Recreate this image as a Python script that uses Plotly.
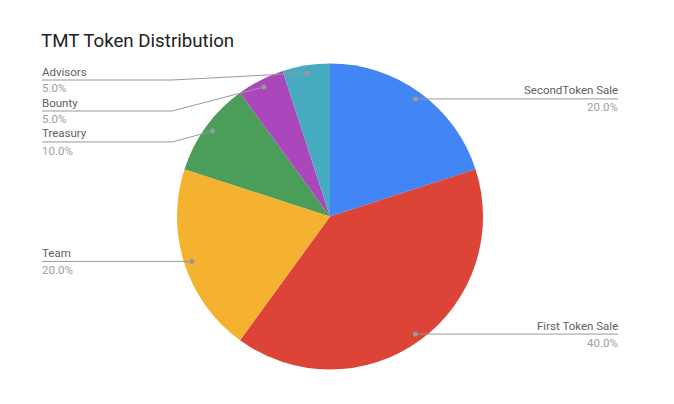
import math
import plotly.graph_objects as go

# data
labels = ["SecondToken Sale", "First Token Sale", "Team", "Treasury", "Bounty", "Advisors"]
values = [20, 40, 20, 10, 5, 5]
colors = ["#4285F4", "#DB4437", "#F4B230", "#4A9E5A", "#AA47BC", "#46ABC1"]

W, H = 674, 404
CX, CY, R = 330, 216.5, 153     # pie centre / radius in pixels
LEFT_X, RIGHT_X = 42, 618       # label text edges
TOP_LIMIT = 80                  # labels can't go above this
GAP = 31                        # min vertical gap between labels


def px(x):
    return x / W


def py(y):
    return 1 - y / H


fig = go.Figure(go.Pie(
    labels=labels, values=values, sort=False, direction="clockwise", rotation=0,
    marker=dict(colors=colors, line=dict(width=0)), textinfo="none",
    domain=dict(x=[px(CX - R), px(CX + R)], y=[py(CY + R), py(CY - R)]),
    showlegend=False,
))

total = sum(values)
items = []
acc = 0
for lab, v in zip(labels, values):
    mid = (acc + v / 2) / total * 2 * math.pi
    acc += v
    dx = math.sin(mid) * R * 0.95
    dy = -math.cos(mid) * R * 0.95
    items.append(dict(label=lab, pct="%.1f%%" % (v / total * 100),
                      dot=(CX + dx, CY + dy), right=dx >= 0))

# simple label layout: push labels down so they don't overlap
for side in (True, False):
    grp = sorted([it for it in items if it["right"] == side], key=lambda it: it["dot"][1])
    last = TOP_LIMIT - GAP
    for it in grp:
        it["ly"] = max(it["dot"][1], last + GAP)
        last = it["ly"]

shapes = []
annotations = []
for it in items:
    x0, y0 = it["dot"]
    ly = it["ly"]
    if it["right"]:
        bend = CX + R + 5
        end = RIGHT_X
        tx = end + 1
        anchor = "right"
    else:
        bend = CX - R - 5
        end = LEFT_X
        tx = end - 1
        anchor = "left"
    if abs(ly - y0) < 0.5:
        path = "M %f %f L %f %f" % (px(x0), py(y0), px(end), py(ly))
    else:
        path = "M %f %f L %f %f L %f %f" % (px(x0), py(y0), px(bend), py(ly), px(end), py(ly))
    shapes.append(dict(type="path", path=path, xref="paper", yref="paper",
                       line=dict(color="#999999", width=1), layer="above"))
    shapes.append(dict(type="circle", xref="paper", yref="paper",
                       xsizemode="pixel", ysizemode="pixel",
                       xanchor=px(x0), yanchor=py(y0), x0=-2.5, x1=2.5, y0=-2.5, y1=2.5,
                       fillcolor="#999999", line=dict(width=0), layer="above"))
    annotations.append(dict(text=it["label"], x=px(tx), y=py(ly - 8.5), xref="paper", yref="paper",
                            xanchor=anchor, yanchor="middle", showarrow=False, borderpad=0,
                            font=dict(size=11.5, color="#616161")))
    annotations.append(dict(text=it["pct"], x=px(tx), y=py(ly + 8.5), xref="paper", yref="paper",
                            xanchor=anchor, yanchor="middle", showarrow=False, borderpad=0,
                            font=dict(size=11.5, color="#9E9E9E")))

fig.update_layout(
    width=W, height=H,
    margin=dict(l=0, r=0, t=0, b=0),
    paper_bgcolor="white",
    font=dict(family="Roboto, sans-serif"),
    title=dict(text="TMT Token Distribution", x=px(41), xanchor="left",
               y=py(40), yanchor="middle", font=dict(size=18.7, color="#222222")),
    shapes=shapes,
    annotations=annotations,
)

# page has a default 8px body margin, drop it so pixels line up
fig.write_html("out.html", config={"displayModeBar": False},
               post_script="document.body.style.margin='0';")
